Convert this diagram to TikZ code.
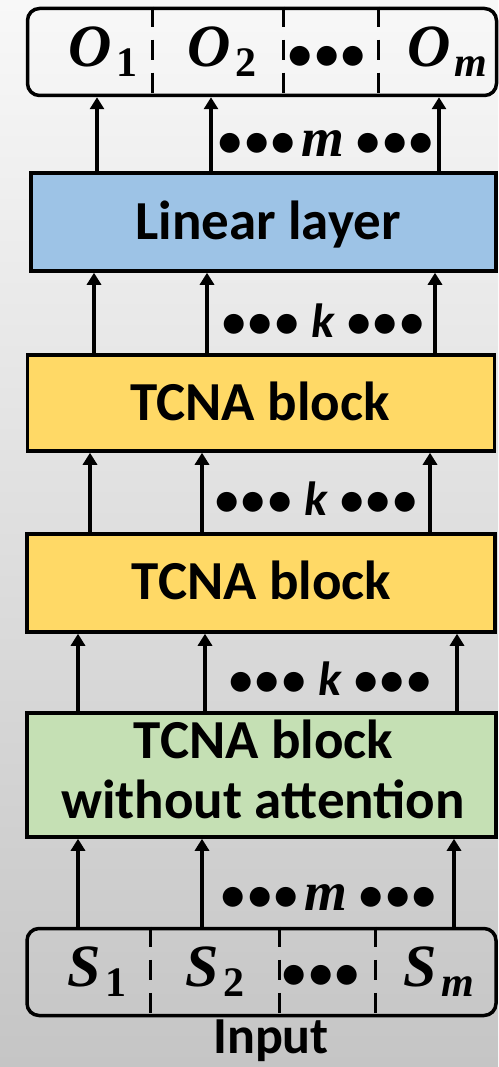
\documentclass[tikz,border=0pt]{standalone}
\usepackage{fontspec}
\setmainfont{Carlito}
\newfontfamily\symfont{Liberation Serif}
\usetikzlibrary{arrows.meta}

\definecolor{bgtop}{HTML}{F8F8F8}
\definecolor{bgbot}{HTML}{C5C5C5}
\definecolor{linblue}{HTML}{9DC3E6}
\definecolor{tcnayellow}{HTML}{FFD966}
\definecolor{tcnagreen}{HTML}{C5E0B4}

% symbol with a lowered, smaller subscript
\newcommand\symsub[2]{{\symfont\bfseries\itshape\fontsize{60}{60}\selectfont #1}%
  \hspace{4pt}\raisebox{-10pt}{\symfont\bfseries\fontsize{42}{42}\selectfont #2}}
\newcommand\bulletrun{{\fontsize{47}{47}\selectfont •\hspace{3pt}•\hspace{3pt}•}}
\newcommand\mcount{{\symfont\bfseries\itshape\fontsize{55}{55}\selectfont m}}
\newcommand\kcount{{\bfseries\itshape\fontsize{48}{48}\selectfont k}}
\newcommand\mlabel{\bulletrun\hspace{6pt}\mcount\hspace{13pt}\bulletrun}
\newcommand\klabel{\bulletrun\hspace{13pt}\kcount\hspace{13pt}\bulletrun}

\begin{document}
\begin{tikzpicture}[x=1pt,y=-1pt,
  txt/.style={font=\bfseries\fontsize{55}{66}\selectfont, inner sep=0pt},
  layerbox/.style={draw=black, line width=3.5pt, inner sep=0pt},
  seqbox/.style={draw=black, line width=3.5pt, rounded corners=12pt, inner sep=0pt,
    minimum width=469pt, minimum height=87pt},
  divider/.style={line width=3pt, dash pattern=on 20pt off 13pt},
  arr/.style={line width=3.5pt, -{Triangle[width=14pt,length=12pt]}},
  lbl/.style={inner sep=0pt, anchor=base, font=\bfseries}]

\useasboundingbox (0,0) rectangle (498,1067);
\shade[top color=bgtop, bottom color=bgbot] (0,0) rectangle (498,1067);

% output sequence
\node[seqbox] (out) at (262,52) {};
\foreach \x [count=\i] in {152,283,378}
  \draw[divider] (out.north -| \x,0) coordinate (od\i) -- (out.south -| od\i);
\node[lbl] (o1) at (103,67) {\symsub{O}{1}};
\node[lbl] (o2) at (222,67) {\symsub{O}{2}};
\node[lbl] (odots) at (327,70) {\bulletrun};
\node[lbl] (om) at (447,67) {\symsub{O}{\itshape m}};

% layers
\node[layerbox, fill=linblue, minimum width=465pt, minimum height=98pt] (lin) at (263.5,222) {};
\node[txt, anchor=base] (lintxt) at (268,240) {Linear layer};

\node[layerbox, fill=tcnayellow, minimum width=467pt, minimum height=96pt] (t1) at (261,403) {};
\node[txt, anchor=base] (t1txt) at (260,420) {TCNA block};

\node[layerbox, fill=tcnayellow, minimum width=468pt, minimum height=98pt] (t2) at (261,583) {};
\node[txt, anchor=base] (t2txt) at (261.5,599) {TCNA block};

\node[layerbox, fill=tcnagreen, minimum width=469pt, minimum height=124pt] (g) at (261.5,775) {};
\node[txt, anchor=base] (gtxt1) at (263.5,758) {TCNA block};
\node[txt, anchor=base] (gtxt2) at (263,818) {without attention};

% input sequence
\node[seqbox] (in) at (261.5,972) {};
\foreach \x [count=\i] in {150,279,375}
  \draw[divider] (in.north -| \x,0) coordinate (id\i) -- (in.south -| id\i);
\node[lbl] (s1) at (97,986) {\symsub{S}{1}};
\node[lbl] (s2) at (215,986) {\symsub{S}{2}};
\node[lbl] (sdots) at (321,988) {\bulletrun};
\node[lbl] (sm) at (439,986) {\symsub{S}{\itshape m}};
\node[txt, anchor=base, font=\bfseries\fontsize{52}{60}\selectfont] (intxt) at (271,1053) {Input};

% connectors
\foreach \x in {97,211,439} \draw[arr] (lin.north -| \x,0) -- (out.south -| \x,0);
\foreach \x in {94,207,435} \draw[arr] (t1.north -| \x,0) -- (lin.south -| \x,0);
\foreach \x in {90,202,430} \draw[arr] (t2.north -| \x,0) -- (t1.south -| \x,0);
\foreach \x in {78,205,457} \draw[arr] (g.north -| \x,0) -- (t2.south -| \x,0);
\foreach \x in {78,202,454} \draw[arr] (in.north -| \x,0) -- (g.south -| \x,0);

% fan-out counts
\node[lbl] (c1) at (326,157) {\mlabel};
\node[lbl] (c2) at (323,337) {\klabel};
\node[lbl] (c3) at (316,515) {\klabel};
\node[lbl] (c4) at (330,695) {\klabel};
\node[lbl] (c5) at (329,910) {\mlabel};
\end{tikzpicture}
\end{document}
